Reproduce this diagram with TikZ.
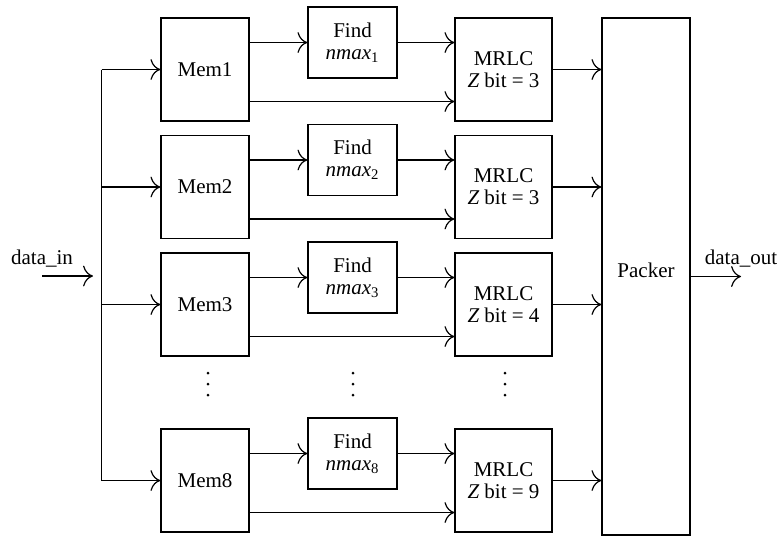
\documentclass[tikz,border=0pt]{standalone}
\usepackage{fontspec}
\setmainfont{Liberation Serif}
\usetikzlibrary{arrows.meta}
\begin{document}
\begin{tikzpicture}[x=0.5pt,y=-0.5pt, line width=0.6pt,
  every node/.style={font=\fontsize{10.5}{11}\selectfont},
  blk/.style={draw, align=center, inner sep=0pt},
  memb/.style={blk, minimum width=44pt, minimum height=51.5pt},
  findb/.style={blk, minimum width=44.5pt, minimum height=35.5pt},
  mrlcb/.style={blk, minimum width=48.5pt, minimum height=51.5pt},
  arr/.style={-{Computer Modern Rightarrow[scale=1.7]}},
  dotf/.style={fill=black, draw=none}]
\useasboundingbox (0,0) rectangle (779,537);
\node[blk, minimum width=44pt, minimum height=258.5pt,
      label={[yshift=3pt]center:Packer}] (packer) at (646,276.5) {};
\foreach \i/\yc/\z in {1/69.5/3, 2/187/3, 3/304.5/4, 8/480.5/9} {
  \node[memb] (mem\i) at (205,\yc) {Mem\i};
  \node[findb] (find\i) at (352.5,\yc-27) {Find\\{\itshape nmax}\textsubscript{\i}};
  \node[mrlcb] (mrlc\i) at (503.5,\yc) {MRLC\\{\itshape Z} bit = \z};
  \coordinate (bus\i) at (101.7,\yc);
  \draw[arr] (bus\i) -- (mem\i.west);
  \draw[arr] (mem\i.east |- find\i.west) -- (find\i.west);
  \draw[arr] (find\i.east) -- (find\i.east -| mrlc\i.west);
  \draw[arr] ([yshift=-16pt]mem\i.east) -- ([yshift=-16pt]mem\i.east -| mrlc\i.west);
  \draw[arr] (mrlc\i.east) -- (mrlc\i.east -| packer.west);
}
\draw (bus1) -- (bus8);
\coordinate (din) at (42,276);
\coordinate (dinend) at (93,276);
\draw[arr] (din) -- (dinend);
\node (dinl) at (42,259) {data\_in};
\coordinate (dout) at (741,276.5);
\draw[arr] (packer.east) -- (dout);
\node (doutl) at (741,259) {data\_out};
\foreach \x in {208,353,505} {
  \foreach \yy in {373,384,395} {
    \fill[dotf] (\x,\yy) circle[radius=0.75pt];
  }
}
\end{tikzpicture}
\end{document}
